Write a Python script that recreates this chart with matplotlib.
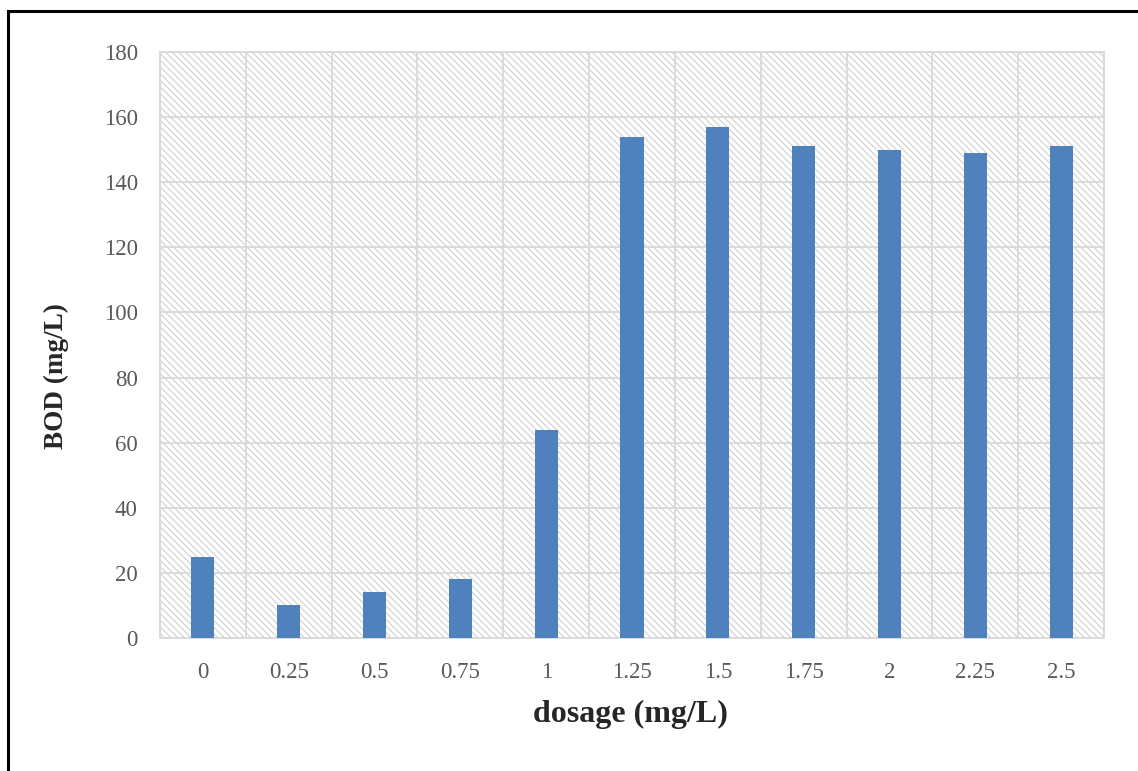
import matplotlib
matplotlib.use("Agg")
import matplotlib.pyplot as plt
from matplotlib.patches import Rectangle

# data
dosage = ["0", "0.25", "0.5", "0.75", "1", "1.25", "1.5", "1.75", "2", "2.25", "2.5"]
bod = [25, 10, 14, 18, 64, 154, 157, 151, 150, 149, 151]
y_ticks = [0, 20, 40, 60, 80, 100, 120, 140, 160, 180]

plt.rcParams['font.family'] = ['Liberation Serif', 'DejaVu Serif']
plt.rcParams['hatch.linewidth'] = 0.8
plt.rcParams['hatch.color'] = '#cfcfcf'

W, H = 1138, 771
fig = plt.figure(figsize=(W / 100, H / 100), dpi=100)

# outer frame of the figure (cut off on the right and bottom in the source)
fig.patches.append(Rectangle((8 / W, -0.05), 1.2, 1 - 11 / H + 0.05,
                             transform=fig.transFigure, fill=False,
                             edgecolor='black', linewidth=2.2, zorder=0))

ax = fig.add_axes([160 / W, 1 - 638 / H, (1104 - 160) / W, (638 - 52) / H])

x = list(range(len(dosage)))

# hatched plot area background
ax.add_patch(Rectangle((0, 0), 1, 1, transform=ax.transAxes, facecolor='white',
                       edgecolor='#cfcfcf', hatch='\\' * 5, linewidth=0, zorder=0))

ax.bar(x, bod, width=0.27, color='#4f81bd', zorder=3)

ax.set_xlim(-0.5, len(dosage) - 0.5)
ax.set_ylim(0, 180)
ax.set_yticks(y_ticks)
ax.set_xticks(x)
ax.set_xticklabels(dosage)

# grid: horizontal every 20, vertical between categories
for yv in y_ticks:
    ax.axhline(yv, color='#d9d9d9', linewidth=1.3, zorder=1)
for xv in range(len(dosage) + 1):
    ax.axvline(xv - 0.5, color='#d9d9d9', linewidth=1.3, zorder=1)

for s in ax.spines.values():
    s.set_color('#d9d9d9')
    s.set_linewidth(1.3)

ax.tick_params(axis='both', length=0, labelsize=16.5, colors='#595959')
ax.tick_params(axis='y', pad=16)
ax.tick_params(axis='x', pad=17)

ax.set_xlabel('dosage (mg/L)', fontsize=23, fontweight='bold', color='#262626')
ax.set_ylabel('BOD (mg/L)', fontsize=19.5, fontweight='bold', color='#262626')
ax.xaxis.set_label_coords((630 - 160) / (1104 - 160), -(714 - 638) / (638 - 52), transform=ax.transAxes)
ax.yaxis.label.set_verticalalignment('center')
ax.yaxis.set_label_coords(-(160 - 56) / (1104 - 160), (638 - 376) / (638 - 52))
ax.xaxis.label.set_verticalalignment('center')

fig.savefig('out.png', dpi=100)
